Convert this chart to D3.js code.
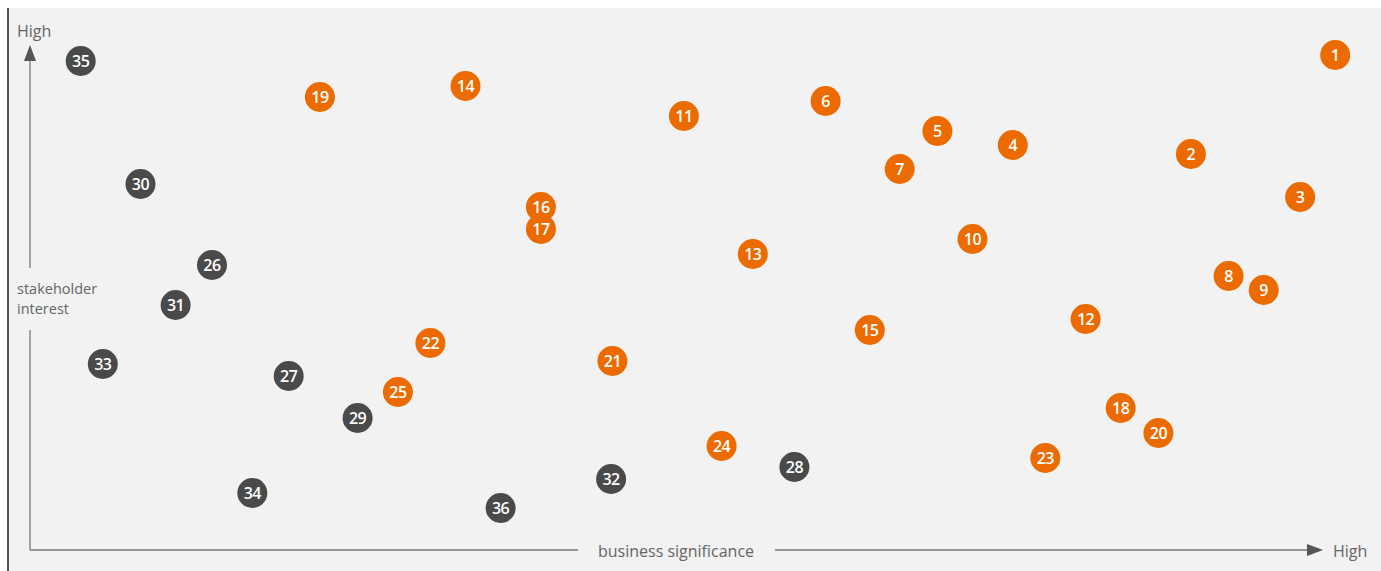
<!DOCTYPE html>
<html>
<head>
<meta charset="utf-8">
<script src="https://cdn.jsdelivr.net/npm/d3@7"></script>
<style>
  html, body { margin: 0; padding: 0; background: #fff; }
  svg { display: block; }
</style>
</head>
<body>
<script>
// topic ids, business significance (0-100), stakeholder interest (0-100)
const ids = [1, 2, 3, 4, 5, 6, 7, 8, 9, 10, 11, 12, 13, 14, 15, 16, 17, 18,
  19, 20, 21, 22, 23, 24, 25, 26, 27, 28, 29, 30, 31, 32, 33, 34, 35, 36]
const significance = [100.4, 89.3, 97.7, 75.6, 69.8, 61.2, 66.9, 92.2, 94.9, 72.5,
  50.3, 81.2, 55.6, 33.5, 64.6, 39.3, 39.3, 83.9, 22.3, 86.8, 44.8, 30.8, 78.1,
  53.2, 28.3, 14.0, 19.9, 58.8, 25.2, 8.5, 11.2, 44.7, 5.6, 17.1, 3.9, 36.2]
const interest = [99.0, 79.2, 70.6, 81.0, 83.8, 89.8, 76.2, 54.8, 52.0, 62.2,
  86.8, 46.2, 59.2, 92.8, 44.0, 68.6, 64.2, 28.4, 90.6, 23.4, 37.8, 41.4, 18.4,
  20.8, 31.6, 57.0, 34.8, 16.6, 26.4, 73.2, 49.0, 14.2, 37.2, 11.4, 97.8, 8.4]
// material topics are 1..25, the rest are grey
const material = ids.map(id => id <= 25)

const W = 1381
const H = 571
const font = '"Open Sans", sans-serif'
const labelColor = '#666'

const x = d3.scaleLinear().domain([0, 100]).range([30, 1330])
const y = d3.scaleLinear().domain([0, 100]).range([550, 50])

const svg = d3.select('body').append('svg')
  .attr('width', W)
  .attr('height', H)

svg.append('rect')
  .attr('x', 8).attr('y', 8)
  .attr('width', W - 8).attr('height', H - 8)
  .attr('fill', '#f1f2f1')

svg.append('line')
  .attr('x1', 8).attr('x2', 8)
  .attr('y1', 8).attr('y2', H)
  .attr('stroke', '#555')
  .attr('stroke-width', 2)

const axisColor = '#777'
const arrowColor = '#555'

// vertical axis, broken for its label
const ax = svg.append('g')
ax.append('line')
  .attr('x1', x(0)).attr('x2', x(0))
  .attr('y1', y(0)).attr('y2', 330)
  .attr('stroke', axisColor).attr('stroke-width', 1.3)
ax.append('line')
  .attr('x1', x(0)).attr('x2', x(0))
  .attr('y1', 268).attr('y2', 58)
  .attr('stroke', axisColor).attr('stroke-width', 1.3)
ax.append('path')
  .attr('d', `M${x(0)},45 l-6,16 l12,0 z`)
  .attr('fill', arrowColor)

// horizontal axis, broken for its label
ax.append('line')
  .attr('x1', x(0)).attr('x2', 578)
  .attr('y1', y(0)).attr('y2', y(0))
  .attr('stroke', axisColor).attr('stroke-width', 1.3)
ax.append('line')
  .attr('x1', 775).attr('x2', 1310)
  .attr('y1', y(0)).attr('y2', y(0))
  .attr('stroke', axisColor).attr('stroke-width', 1.3)
ax.append('path')
  .attr('d', `M1323,${y(0)} l-16,-6 l0,12 z`)
  .attr('fill', arrowColor)

const label = (txt, px, py, anchor, size) => svg.append('text')
  .text(txt)
  .attr('x', px).attr('y', py)
  .attr('text-anchor', anchor || 'start')
  .attr('font-family', font)
  .attr('font-size', size || 16)
  .attr('fill', labelColor)

label('High', 17, 37)
label('stakeholder', 17, 294, 'start', 14.5)
label('interest', 17, 314, 'start', 14.5)
label('business significance', 676, 557, 'middle')
label('High', 1333, 557)

const points = ids.map((id, i) => ({
  id, sx: significance[i], iy: interest[i], material: material[i]
}))

const dots = svg.append('g')
  .selectAll('g')
  .data(points)
  .join('g')
  .attr('transform', d => `translate(${x(d.sx)},${y(d.iy)})`)

dots.append('circle')
  .attr('r', 15)
  .attr('fill', d => d.material ? '#ec6b00' : '#4a4a4a')

dots.append('text')
  .text(d => d.id)
  .attr('text-anchor', 'middle')
  .attr('dy', '0.36em')
  .attr('font-family', font)
  .attr('font-size', 16)
  .attr('font-weight', 600)
  .attr('letter-spacing', -0.5)
  .attr('fill', '#fff')
</script>
</body>
</html>
